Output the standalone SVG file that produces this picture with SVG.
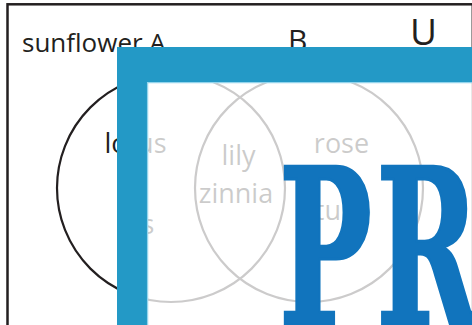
<svg xmlns="http://www.w3.org/2000/svg" width="472" height="325" viewBox="0 0 472 325">
  <style>
    .lbl { font-family: "Open Sans", "Noto Sans", sans-serif; fill: #231f20; }
    .inner { font-size: 27px; text-anchor: middle; }
    .set { fill: none; stroke: #231f20; stroke-width: 2.2; }
  </style>
  <rect x="0" y="0" width="472" height="325" fill="#ffffff"/>
  <g id="universe">
    <rect x="7.5" y="4.3" width="465.3" height="330" fill="none" stroke="#231f20" stroke-width="2.5"/>
    <text class="lbl" x="22" y="52" font-size="26">sunflower A</text>
    <text class="lbl" x="288" y="51" font-size="30">B</text>
    <text class="lbl" x="410" y="45" font-size="37">U</text>
  </g>
  <g id="setA">
    <circle class="set" cx="171" cy="188" r="114"/>
    <text class="lbl inner" x="135.5" y="153">lotus</text>
    <text class="lbl inner" x="135.5" y="234">iris</text>
  </g>
  <g id="setB">
    <circle class="set" cx="309" cy="188" r="114"/>
    <text class="lbl inner" x="341.5" y="153">rose</text>
    <text class="lbl inner" x="343" y="220">tulip</text>
  </g>
  <g id="intersection">
    <text class="lbl inner" x="238.5" y="165">lily</text>
    <text class="lbl inner" x="236" y="203">zinnia</text>
  </g>
  <g id="connectors"></g>
  <g id="watermark">
    <rect x="147" y="82" width="325" height="243" fill="#ffffff" fill-opacity="0.77"/>
    <rect x="117" y="47" width="355" height="35" fill="#2399c6"/>
    <rect x="117" y="47" width="30" height="278" fill="#2399c6"/>
    <polyline points="147.6,325 147.6,82.6 472,82.6" fill="none" stroke="#93d4ec" stroke-width="1.3"/>
    <text transform="translate(279,325) scale(0.63,1)" x="0" y="0" font-family="'DejaVu Serif Condensed', 'DejaVu Serif', serif" font-weight="bold" font-size="218" letter-spacing="7" fill="#1174bd" stroke="#1174bd" stroke-width="3">PR</text>
  </g>
</svg>
